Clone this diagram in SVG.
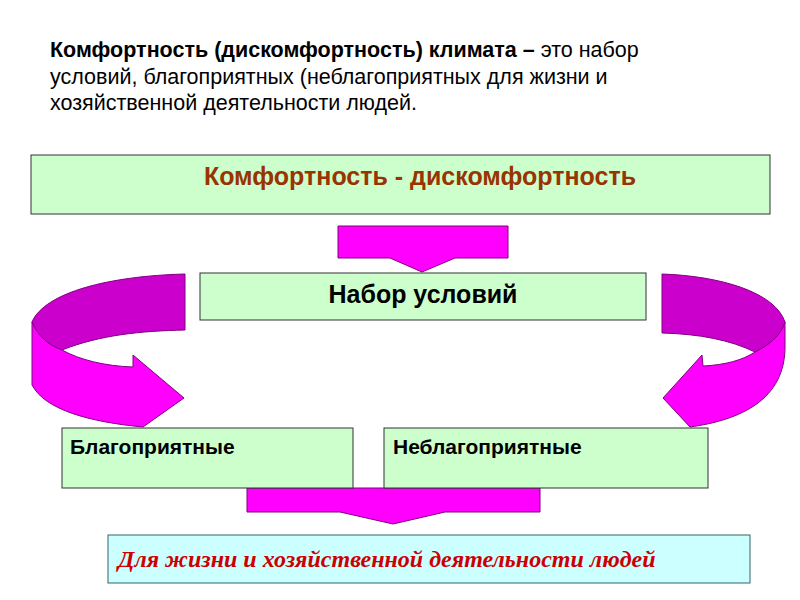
<svg xmlns="http://www.w3.org/2000/svg" width="800" height="600" viewBox="0 0 800 600">
<style>
text{font-family:"Liberation Sans",Arial,sans-serif}
.box{fill:#ccffcc;stroke:#333;stroke-width:1}
.ar{fill:#ff00ff;stroke:#800080;stroke-width:1}
.dk{fill:#cc00cc;stroke:#800080;stroke-width:1}
.b{font-weight:bold}
</style>
<g id="title" font-size="21.5" fill="#000">
<text x="50" y="57"><tspan class="b">Комфортность (дискомфортность) климата –</tspan> это набор</text>
<text x="50" y="84">условий, благоприятных (неблагоприятных для жизни и</text>
<text x="50" y="110">хозяйственной деятельности людей.</text>
</g>
<g id="connectors">
<path class="ar" d="M338,226 H508 V258 H455 L422,272 L390,258 H338 Z"/>
<path class="ar" d="M247,488 H540 V512 H445 L393,524 L340,512 H247 Z"/>
<path class="dk" d="M185,274 C110,276 45,292 32,322 C38,336 48,345 62,350 C100,335 140,331 185,330 Z"/>
<path class="ar" d="M32,322 V385 C45,410 90,422 143,427 L184,398 L133,355 L133,367 C105,366 80,360 62,350 C48,345 38,336 32,322 Z"/>
<path class="dk" d="M662,274 C720,276 775,292 785,322 C782,334 770,345 755,352 C730,340 700,334 662,333 Z"/>
<path class="ar" d="M785,322 V345 C786,400 740,420 690,427 L663,398 L702,355 L703,366 C725,365 743,360 755,352 C770,345 782,334 785,322 Z"/>
</g>
<g id="n1"><rect class="box" x="31" y="155" width="739" height="59"/>
<text x="420" y="185" text-anchor="middle" font-size="25" class="b" fill="#993300">Комфортность - дискомфортность</text></g>
<g id="n2"><rect class="box" x="200" y="273" width="446" height="47"/>
<text x="423" y="303" text-anchor="middle" font-size="25" class="b">Набор условий</text></g>
<g id="n3"><rect class="box" x="62" y="428" width="291" height="60"/>
<text x="70" y="454" font-size="21" class="b">Благоприятные</text></g>
<g id="n4"><rect class="box" x="384" y="428" width="324" height="60"/>
<text x="393" y="454" font-size="21" class="b">Неблагоприятные</text></g>
<g id="n5"><rect x="108" y="535" width="642" height="48" fill="#ccffff" stroke="#336666"/>
<text x="118" y="567" font-size="24" font-style="italic" font-weight="bold" fill="#cc0000" style="font-family:'Liberation Serif',serif">Для жизни и хозяйственной деятельности людей</text></g>
</svg>
